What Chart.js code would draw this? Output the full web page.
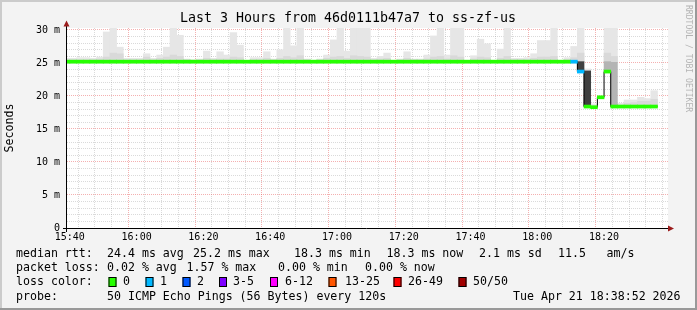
<!DOCTYPE html>
<html>
<head>
<meta charset="utf-8">
<script src="https://cdn.jsdelivr.net/npm/chart.js@4/dist/chart.umd.min.js"></script>
<style>
html, body { margin: 0; padding: 0; background: #f3f3f3; }
</style>
</head>
<body>
<canvas id="myChart" width="697" height="310"></canvas>
<script>
// x axis is in minutes from 15:40
var axisMin = -0.85;
var axisMax = axisMin + 180;
var stepStartMin = -2;   // first 120s step starts 15:38
var stepMin = 2;

var timeLabels = ['15:40', '16:00', '16:20', '16:40', '17:00', '17:20', '17:40', '18:00', '18:20'];
var yLabels = ['0', '5 m', '10 m', '15 m', '20 m', '25 m', '30 m'];

// median rtt per step (ms)
var medianMs = [
    25.2, 25.2, 25.2, 25.2, 25.2, 25.2, 25.2, 25.2, 25.2, 25.2,
    25.2, 25.2, 25.2, 25.2, 25.2, 25.2, 25.2, 25.2, 25.2, 25.2,
    25.2, 25.2, 25.2, 25.2, 25.2, 25.2, 25.2, 25.2, 25.2, 25.2,
    25.2, 25.2, 25.2, 25.2, 25.2, 25.2, 25.2, 25.2, 25.2, 25.2,
    25.2, 25.2, 25.2, 25.2, 25.2, 25.2, 25.2, 25.2, 25.2, 25.2,
    25.2, 25.2, 25.2, 25.2, 25.2, 25.2, 25.2, 25.2, 25.2, 25.2,
    25.2, 25.2, 25.2, 25.2, 25.2, 25.2, 25.2, 25.2, 25.2, 25.2,
    25.2, 25.2, 25.2, 25.2, 25.2, 25.2, 25.2, 23.7, 18.4, 18.3,
    19.8, 23.7, 18.4, 18.4, 18.4, 18.4, 18.4, 18.4, 18.4
];
// index into lossColors per step
var lossIdx = [
    0, 0, 0, 0, 0, 0, 0, 0, 0, 0,
    0, 0, 0, 0, 0, 0, 0, 0, 0, 0,
    0, 0, 0, 0, 0, 0, 0, 0, 0, 0,
    0, 0, 0, 0, 0, 0, 0, 0, 0, 0,
    0, 0, 0, 0, 0, 0, 0, 0, 0, 0,
    0, 0, 0, 0, 0, 0, 0, 0, 0, 0,
    0, 0, 0, 0, 0, 0, 0, 0, 0, 0,
    0, 0, 0, 0, 0, 0, 1, 1, 0, 0,
    0, 0, 0, 0, 0, 0, 0, 0, 0
];
// smoke: bottom, outer top, inner top (ms)
var smokeLo = [
    25.0, 25.0, 25.0, 25.0, 25.0, 25.0, 25.0, 25.0, 25.0, 25.0,
    25.0, 25.0, 25.0, 25.0, 25.0, 25.0, 25.0, 25.0, 25.0, 25.0,
    25.0, 25.0, 25.0, 25.0, 25.0, 25.0, 25.0, 25.0, 25.0, 25.0,
    25.0, 25.0, 25.0, 25.0, 25.0, 25.0, 25.0, 25.0, 25.0, 25.0,
    25.0, 25.0, 25.0, 25.0, 25.0, 25.0, 25.0, 25.0, 25.0, 25.0,
    25.0, 25.0, 25.0, 25.0, 25.0, 25.0, 25.0, 25.0, 25.0, 25.0,
    25.0, 25.0, 25.0, 25.0, 25.0, 25.0, 25.0, 25.0, 25.0, 25.0,
    25.0, 25.0, 25.0, 25.0, 25.0, 25.0, 25.0, 25.2, 23.8, 18.3,
    19.8, 25.2, 25.1, 18.4, 18.4, 18.4, 18.4, 18.4, 18.4
];
var smokeHi = [
    25.7, 25.7, 25.8, 25.8, 25.7, 25.9, 29.7, 30.5, 27.4, 25.7,
    25.7, 25.7, 26.4, 25.7, 26.2, 27.4, 30.5, 29.2, 25.6, 25.5,
    25.6, 26.8, 25.7, 26.7, 26.2, 29.6, 27.7, 25.4, 25.8, 25.8,
    26.7, 25.6, 27.0, 30.5, 27.6, 30.5, 25.6, 25.4, 25.6, 26.2,
    28.5, 30.5, 26.8, 30.5, 30.5, 30.5, 25.7, 26.0, 26.5, 25.4,
    25.6, 26.7, 25.6, 25.6, 26.2, 29.1, 30.5, 26.2, 30.5, 30.5,
    25.4, 26.1, 28.6, 27.9, 25.4, 27.1, 30.5, 25.7, 25.7, 25.8,
    26.4, 28.4, 28.4, 30.5, 25.4, 25.8, 27.5, 30.5, 24.1, 18.8,
    19.9, 30.5, 30.5, 18.9, 19.4, 19.4, 19.8, 19.6, 20.8
];
var smokeMid = [
    25.5, 25.5, 25.5, 25.5, 25.5, 25.6, 25.9, 26.5, 26.4, 25.5,
    25.5, 25.5, 25.9, 25.5, 25.7, 25.9, 26.2, 26.0, 25.5, 25.4,
    25.5, 25.7, 25.5, 25.6, 25.6, 25.9, 25.8, 25.4, 25.5, 25.5,
    25.7, 25.5, 25.7, 26.0, 25.8, 26.1, 25.5, 25.4, 25.5, 25.7,
    25.9, 26.0, 25.7, 26.1, 26.0, 25.9, 25.5, 25.6, 25.7, 25.4,
    25.5, 25.7, 25.5, 25.5, 25.6, 25.9, 26.0, 25.6, 26.1, 25.9,
    25.4, 25.6, 25.9, 25.8, 25.4, 25.7, 26.0, 25.5, 25.5, 25.5,
    25.7, 25.9, 25.9, 26.0, 25.4, 25.5, 25.8, 26.5, null, null,
    null, 26.5, 26.0, 18.6, 18.9, 19.0, 19.2, 19.2, 19.5
];
// dense smoke where the pings spread between two levels
var darkSmokeStep = [77, 78];
var darkSmokeLo = [23.7, 18.4];
var darkSmokeHi = [25.2, 23.8];
var greySmokeStep = [81, 82];
var greySmokeLo = [23.8, 18.4];
var greySmokeHi = [25.2, 25.1];

var lossColors = ['#26ff00', '#00b8ff', '#0059ff', '#7e00ff', '#ff00ff', '#ff5500', '#ff0000', '#a10000'];
var lossNames = ['0', '1', '2', '3-5', '6-12', '13-25', '26-49', '50/50'];

function stepX(k) { return stepStartMin + stepMin * k + stepMin / 2; }

var lightData = smokeLo.map(function (lo, k) {
    return { x: stepX(k), y: smokeHi[k] == null ? null : [lo, smokeHi[k]] };
});
var midData = smokeLo.map(function (lo, k) {
    return { x: stepX(k), y: smokeMid[k] == null ? null : [lo, smokeMid[k]] };
});
var darkData = darkSmokeStep.map(function (k, i) {
    return { x: stepX(k), y: [darkSmokeLo[i], darkSmokeHi[i]] };
});
var greyData = greySmokeStep.map(function (k, i) {
    return { x: stepX(k), y: [greySmokeLo[i], greySmokeHi[i]] };
});
var medianBars = medianMs.map(function (m, k) {
    return { x: stepX(k), y: [m - 0.23, m + 0.23] };
});
var medianLine = medianMs.map(function (m, k) {
    return { x: stepStartMin + stepMin * k, y: m };
});
medianLine.push({ x: stepStartMin + stepMin * medianMs.length, y: medianMs[medianMs.length - 1] });

var font = '"DejaVu Sans Mono"';

var rrdPlugin = {
    id: 'rrd',
    beforeDraw: function (chart) {
        var c = chart.ctx, a = chart.chartArea;
        c.save();
        c.fillStyle = '#f3f3f3';
        c.fillRect(0, 0, 697, 310);
        c.fillStyle = '#cbcbcb';
        c.fillRect(0, 0, 697, 2);
        c.fillRect(0, 0, 2, 310);
        c.fillStyle = '#999999';
        c.fillRect(0, 308, 697, 2);
        c.fillRect(695, 0, 2, 310);
        c.fillStyle = '#ffffff';
        c.fillRect(a.left, a.top, a.right - a.left, a.bottom - a.top);
        c.restore();
    },
    afterDraw: function (chart) {
        var c = chart.ctx, a = chart.chartArea;
        c.save();
        // axes
        c.strokeStyle = '#000';
        c.lineWidth = 1;
        c.beginPath();
        c.moveTo(a.left - 0.5, a.bottom + 4);
        c.lineTo(a.left - 0.5, a.top - 4);
        c.moveTo(a.left - 4, a.bottom + 0.5);
        c.lineTo(a.right + 2, a.bottom + 0.5);
        c.stroke();
        c.fillStyle = '#9b1c1c';
        c.beginPath();
        c.moveTo(a.left - 3.5, a.top - 1.5);
        c.lineTo(a.left + 2.5, a.top - 1.5);
        c.lineTo(a.left - 0.5, a.top - 7.5);
        c.closePath();
        c.fill();
        c.beginPath();
        c.moveTo(a.right, a.bottom - 2.5);
        c.lineTo(a.right, a.bottom + 3.5);
        c.lineTo(a.right + 6, a.bottom + 0.5);
        c.closePath();
        c.fill();

        // title
        c.fillStyle = '#000';
        c.textBaseline = 'middle';
        c.textAlign = 'center';
        c.font = '13.3px ' + font;
        c.fillText('Last 3 Hours from 46d0111b47a7 to ss-zf-us', 348, 19);

        // y axis title
        c.save();
        c.translate(10, 128);
        c.rotate(-Math.PI / 2);
        c.font = '11.6px ' + font;
        c.fillText('Seconds', 0, 0);
        c.restore();

        // watermark
        c.save();
        c.translate(688, 5);
        c.rotate(Math.PI / 2);
        c.textAlign = 'left';
        c.fillStyle = '#b4b4b4';
        c.font = '8.1px ' + font;
        c.fillText('RRDTOOL / TOBI OETIKER', 0, 0);
        c.restore();

        // legend
        c.textAlign = 'left';
        c.font = '11.6px ' + font;
        var rows = [
            [254, [[16, 'median rtt:'], [107, '24.4 ms avg'], [193, '25.2 ms max'], [294, '18.3 ms min'],
                   [386.5, '18.3 ms now'], [479, '2.1 ms sd'], [558, '11.5'], [606.5, 'am/s']]],
            [268, [[16, 'packet loss:'], [107, '0.02 % avg'], [186.5, '1.57 % max'], [278, '0.00 % min'],
                   [365, '0.00 % now']]],
            [282, [[16, 'loss color:']]],
            [296.5, [[16, 'probe:'], [107, '50 ICMP Echo Pings (56 Bytes) every 120s'],
                     [513, 'Tue Apr 21 18:38:52 2026']]]
        ];
        rows.forEach(function (r) {
            r[1].forEach(function (t) { c.fillText(t[1], t[0], r[0]); });
        });
        var boxX = [108.5, 145.5, 182.5, 219, 270, 328.5, 393.5, 458.5];
        var nameX = [123, 160, 197, 233, 285, 345, 408, 473];
        for (var i = 0; i < lossNames.length; i++) {
            c.fillStyle = lossColors[i];
            c.fillRect(boxX[i], 277, 8, 10);
            c.strokeStyle = '#000';
            c.strokeRect(boxX[i] + 0.5, 277.5, 7, 9);
            c.fillStyle = '#000';
            c.fillText(lossNames[i], nameX[i], 282);
        }
        c.restore();
    }
};

var majorGrid = 'rgba(230, 80, 80, 0.45)';
var minorGrid = 'rgba(140, 140, 140, 0.32)';

function gridColor(step) {
    return function (c) {
        if (!c.tick) return minorGrid;
        return c.tick.value % step === 0 ? majorGrid : minorGrid;
    };
}

var ctx = document.getElementById('myChart').getContext('2d');
var chart = new Chart(ctx, {
    type: 'bar',
    data: {
        datasets: [
            {
                type: 'bar', data: medianBars, order: 0, grouped: false,
                backgroundColor: function (c) { return lossColors[lossIdx[c.dataIndex]] || lossColors[0]; },
                barPercentage: 1, categoryPercentage: 1
            },
            {
                type: 'line', data: medianLine, order: 1, stepped: true,
                borderColor: '#000', borderWidth: 1, pointRadius: 0, fill: false
            },
            {
                type: 'bar', data: darkData, order: 2, grouped: false,
                backgroundColor: '#404040', barPercentage: 1, categoryPercentage: 1
            },
            {
                type: 'bar', data: greyData, order: 3, grouped: false,
                backgroundColor: '#b4b4b4', barPercentage: 1, categoryPercentage: 1
            },
            {
                type: 'bar', data: midData, order: 4, grouped: false,
                backgroundColor: '#d9d9d9', barPercentage: 1, categoryPercentage: 1
            },
            {
                type: 'bar', data: lightData, order: 5, grouped: false,
                backgroundColor: '#e6e6e6', barPercentage: 1, categoryPercentage: 1
            }
        ]
    },
    options: {
        responsive: false,
        animation: false,
        devicePixelRatio: 1,
        layout: { padding: { left: 0, top: 28, right: 29, bottom: 0 } },
        plugins: { legend: { display: false }, tooltip: { enabled: false } },
        scales: {
            x: {
                type: 'linear', min: axisMin, max: axisMax, offset: false, z: 1,
                afterFit: function (s) { s.height = 82; },
                afterBuildTicks: function (s) {
                    var t = [];
                    for (var v = 0; v <= 175; v += 5) t.push({ value: v });
                    s.ticks = t;
                },
                grid: { drawTicks: false, lineWidth: 1, color: gridColor(20) },
                border: { display: false, dash: [1, 1] },
                ticks: {
                    autoSkip: false, maxRotation: 0, padding: 3, color: '#000',
                    font: { family: 'DejaVu Sans Mono', size: 10 },
                    callback: function (v) { return v % 20 === 0 ? timeLabels[v / 20] : ''; }
                }
            },
            y: {
                type: 'linear', min: 0, max: 30.3, z: 1,
                afterFit: function (s) { s.width = 67; },
                afterBuildTicks: function (s) {
                    var t = [];
                    for (var v = 0; v <= 30; v += 1) t.push({ value: v });
                    s.ticks = t;
                },
                grid: { drawTicks: false, lineWidth: 1, color: gridColor(5) },
                border: { display: false, dash: [1, 1] },
                ticks: {
                    autoSkip: false, padding: 7, color: '#000',
                    font: { family: 'DejaVu Sans Mono', size: 10 },
                    callback: function (v) { return v % 5 === 0 ? yLabels[v / 5] : ''; }
                }
            }
        }
    },
    plugins: [rrdPlugin]
});
</script>
</body>
</html>
